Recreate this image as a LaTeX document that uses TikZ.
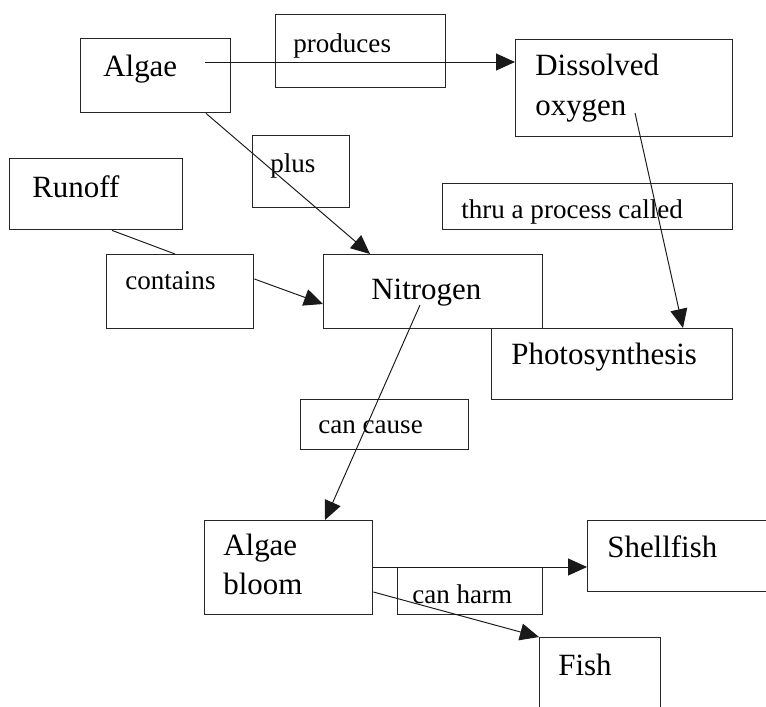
\documentclass[tikz,border=0pt]{standalone}
\usepackage{fontspec}
\setmainfont{Liberation Serif}
\usepackage{tikz}
\usetikzlibrary{arrows.meta, calc}

\begin{document}
\begin{tikzpicture}[
	x=0.02cm, y=-0.02cm,
	box/.style={rectangle, draw=black!85, line width=0.8pt, anchor=north west, inner sep=0pt},
	word/.style={anchor=base west, inner sep=0pt, align=left,
	             font=\fontsize{17.6}{22.2}\selectfont},
	link/.style={anchor=base west, inner sep=0pt, font=\fontsize{15.4}{18}\selectfont},
	arr/.style={-{Triangle[length=3.8mm, width=3.4mm]}, line width=0.55pt, draw=black!90},
	bare/.style={line width=0.55pt, draw=black!90}
	]
\useasboundingbox (0,0) rectangle (766,706);
\clip (0,0) rectangle (766,706);

% boxes
\node[box, minimum width=3cm, minimum height=1.48cm] (algae) at (80,38) {};
\node[box, minimum width=3.4cm, minimum height=1.46cm] (produces) at (275,14) {};
\node[box, minimum width=4.34cm, minimum height=1.94cm] (dissolved) at (515,39) {};
\node[box, minimum width=1.94cm, minimum height=1.44cm] (plus) at (252,135) {};
\node[box, minimum width=3.46cm, minimum height=1.42cm] (runoff) at (9,158) {};
\node[box, minimum width=5.8cm, minimum height=0.92cm] (thru) at (442,183) {};
\node[box, minimum width=2.94cm, minimum height=1.48cm] (contains) at (106,254) {};
\node[box, minimum width=4.38cm, minimum height=1.48cm] (nitrogen) at (323,254) {};
\node[box, minimum width=4.82cm, minimum height=1.42cm] (photo) at (491,328) {};
\node[box, minimum width=3.36cm, minimum height=1cm] (cause) at (300,399) {};
\node[box, minimum width=3.36cm, minimum height=1.88cm] (bloom) at (204,520) {};
\node[box, minimum width=3.8cm, minimum height=1.42cm] (shellfish) at (587,520) {};
\node[box, minimum width=2.9cm, minimum height=0.94cm] (harm) at (397,567) {};
\node[box, minimum width=2.42cm, minimum height=2cm] (fish) at (539,637) {};

% texts (two-line ones sit on the baseline of their last line)
\node[word] (algae-t) at (103,76) {Algae};
\node[link] (produces-t) at (293,52) {produces};
\node[word] (dissolved-t) at (535,115) {Dissolved\\oxygen};
\node[link] (plus-t) at (270,172) {plus};
\node[word] (runoff-t) at (32,197) {Runoff};
\node[link] (thru-t) at (461,218) {thru a process called};
\node[link] (contains-t) at (125,289) {contains};
\node[word] (nitrogen-t) at (371,299) {Nitrogen};
\node[word] (photo-t) at (511,364) {Photosynthesis};
\node[link] (cause-t) at (318,433) {can cause};
\node[word] (bloom-t) at (223,594) {Algae\\bloom};
\node[link] (harm-t) at (412,603) {can harm};
\node[word] (shellfish-t) at (607,557) {Shellfish};
\node[word] (fish-t) at (558,675) {Fish};

% connectors
\draw[arr] ($(algae.north east)+(-26,24)$) -- ($(dissolved.north west)+(0,23)$);
\draw[arr] ($(algae.south west)+(126,0)$) -- ($(nitrogen.north west)+(47,0)$);
\draw[bare] ($(runoff.south west)+(103,0)$) -- ($(contains.north west)+(69,0)$);
\draw[arr] ($(contains.north east)+(0,25)$) -- ($(nitrogen.north west)+(0,50)$);
\draw[arr] ($(dissolved.north west)+(120,74)$) -- ($(photo.north west)+(192,0)$);
\draw[arr] ($(nitrogen.north west)+(97,51)$) -- ($(bloom.north west)+(121,0)$);
\draw[arr] ($(bloom.north east)+(0,47)$) -- ($(shellfish.north west)+(0,47)$);
\draw[arr] ($(bloom.north east)+(0,72)$) -- (fish.north west);
\end{tikzpicture}
\end{document}
